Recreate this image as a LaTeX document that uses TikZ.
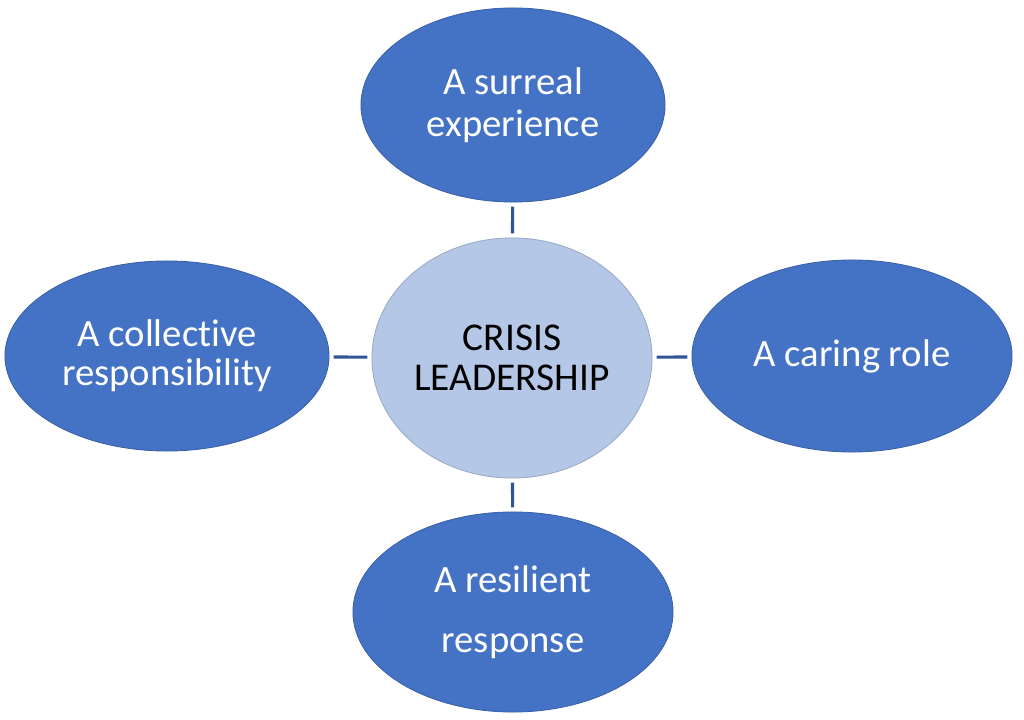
\documentclass[tikz,border=0pt]{standalone}
\usepackage{fontspec}
\setmainfont[Ligatures=NoCommon]{Carlito}
\usetikzlibrary{shapes.geometric}
\definecolor{theme}{HTML}{4472C4}
\definecolor{pale}{HTML}{B4C7E7}
\definecolor{link}{HTML}{2F5597}
\begin{document}
\begin{tikzpicture}[x=0.025cm,y=-0.025cm,
  theme/.style={ellipse,fill=theme,draw=theme!85!black,line width=0.6pt,inner sep=0pt,
    text=white,align=center,font=\fontsize{27.5}{29.5}\selectfont},
  hub/.style={ellipse,fill=pale,draw=pale!85!black,line width=0.6pt,inner sep=0pt,
    text=black,align=center,font=\fontsize{28}{28.5}\selectfont},
  spoke/.style={draw=link,line width=2.2pt,shorten <=3pt,shorten >=3pt}]
\useasboundingbox (0,0) rectangle (1024,720);
\node [hub,minimum width=7cm,minimum height=6cm] (crisis) at (512,358) {CRISIS\\LEADERSHIP};
\node [theme,minimum width=7.6cm,minimum height=4.85cm] (surreal) at (513,105) {A surreal\\experience};
\node [theme,minimum width=8.1cm,minimum height=4.75cm] (collective) at (167,356) {A collective\\[-2pt]responsibility};
\node [theme,minimum width=8cm,minimum height=4.8cm] (caring) at (852,356) {A caring role};
\node [theme,minimum width=8cm,minimum height=5cm] (resilient) at (513,612) {A resilient\\[13pt]response};
\draw [spoke] (surreal) -- (crisis);
\draw [spoke] (collective) -- (crisis);
\draw [spoke] (crisis) -- (caring);
\draw [spoke] (crisis) -- (resilient);
\end{tikzpicture}
\end{document}
